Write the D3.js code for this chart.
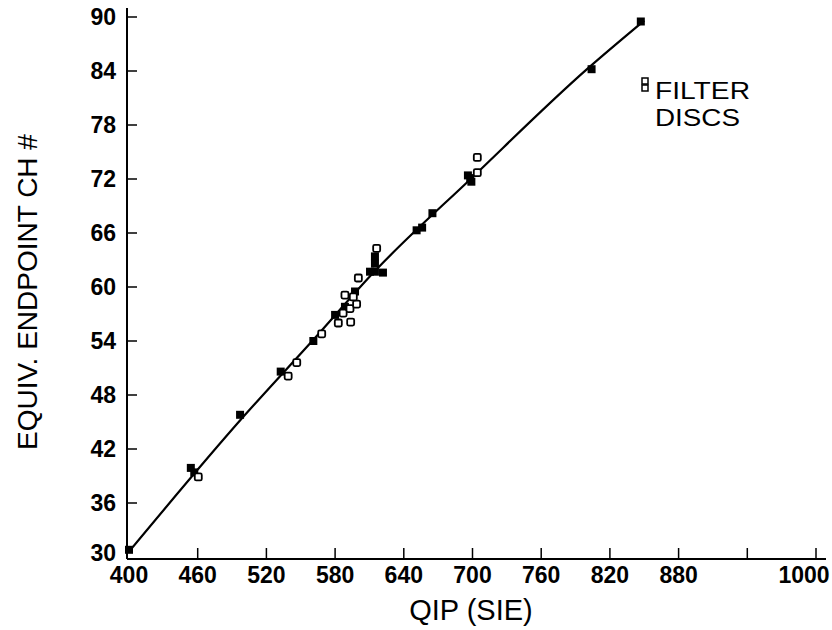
<html>
<script src="https://cdn.jsdelivr.net/npm/d3@7"></script>
<body style="margin:0;background:#fff">
<svg width=832 height=630></svg>
</body>
<script>

// ticks
var xTicks = [400,460,520,580,640,700,760,820,880,940,1000];
var xLabels = ["400","460","520","580","640","700","760","820","880","","1000"];
var yTicks = [30,36,42,48,54,60,66,72,78,84,90];

// filled squares (qip, ch#)
var filledX = [400,454,457,497,532.5,561,580,588.6,597.4,610.5,614.8,621.8,614.8,614.8,651.2,656,665,696,698,699,804,847];
var filledY = [30.8,39.9,39.4,45.8,50.6,54.0,56.9,57.8,59.5,61.7,61.7,61.6,62.6,63.4,66.3,66.6,68.2,72.4,72.1,71.7,84.2,89.5];

// open squares = filter discs
var openX = [460.5,539,546.5,568.3,582.8,593.6,587,593,598.8,588.6,595.9,600.3,616.3,704.2,704.2];
var openY = [38.9,50.1,51.6,54.8,56.0,56.1,57.1,57.6,58.1,59.1,58.9,61.0,64.3,74.4,72.7];

// fitted curve
var fitX = [400,500,560,615,700,800,850];
var fitY = [30.6,45.6,54.0,61.8,72.2,84.2,89.6];

var svg = d3.select("svg");
var x = d3.scaleLinear().domain([400,1000]).range([129,816]);
var y = d3.scaleLinear().domain([30,90]).range([557,17]);

svg.append("line").attr("x1",127).attr("x2",127).attr("y1",8).attr("y2",559)
  .attr("stroke","#000").attr("stroke-width",2);
svg.append("line").attr("x1",127).attr("x2",826).attr("y1",559).attr("y2",559)
  .attr("stroke","#000").attr("stroke-width",2);

// y ticks
var yg = svg.append("g");
yTicks.forEach(function(t) {
  if(t > 30) yg.append("line").attr("x1",127).attr("x2",137).attr("y1",y(t)).attr("y2",y(t))
    .attr("stroke","#000").attr("stroke-width",1.5);
  yg.append("text").attr("x",116).attr("y",y(t)+(t==30?-4:0)).attr("dy","0.36em")
    .attr("text-anchor","end").attr("font-family","Liberation Sans").attr("font-weight","bold")
    .attr("font-size",23).text(t);
});

// x ticks
var xg = svg.append("g");
xTicks.forEach(function(t,i) {
  if(t > 400) xg.append("line").attr("x1",x(t)).attr("x2",x(t)).attr("y1",559).attr("y2",548)
    .attr("stroke","#000").attr("stroke-width",1.5);
  xg.append("text").attr("x",t==1000 ? x(t)-12 : x(t)).attr("y",583)
    .attr("text-anchor","middle").attr("font-family","Liberation Sans").attr("font-weight","bold")
    .attr("font-size",23).text(xLabels[i]);
});

svg.append("text").attr("x",471).attr("y",620).attr("text-anchor","middle")
  .attr("font-family","Liberation Sans").attr("font-size",29).text("QIP (SIE)");
svg.append("text").attr("transform","translate(37,292) rotate(-90)").attr("text-anchor","middle")
  .attr("font-family","Liberation Sans").attr("font-size",28).text("EQUIV. ENDPOINT CH #");

// curve
var line = d3.line().x(function(d){return x(d[0]);}).y(function(d){return y(d[1]);})
  .curve(d3.curveMonotoneX);
svg.append("path").datum(d3.zip(fitX,fitY)).attr("d",line)
  .attr("fill","none").attr("stroke","#000").attr("stroke-width",2.2);

// points
var s = 8;
svg.selectAll(".f").data(d3.zip(filledX,filledY)).enter().append("rect")
  .attr("x",function(d){return x(d[0])-s/2;}).attr("y",function(d){return y(d[1])-s/2;})
  .attr("width",s).attr("height",s).attr("fill","#000");
var o = 7;
svg.selectAll(".o").data(d3.zip(openX,openY)).enter().append("rect")
  .attr("x",function(d){return x(d[0])-o/2;}).attr("y",function(d){return y(d[1])-o/2;})
  .attr("width",o).attr("height",o).attr("rx",1.5).attr("fill","#fff")
  .attr("stroke","#000").attr("stroke-width",1.8);

// legend
svg.append("rect").attr("x",642).attr("y",78).attr("width",6).attr("height",6)
  .attr("fill","#fff").attr("stroke","#000").attr("stroke-width",1.5);
svg.append("rect").attr("x",642).attr("y",85).attr("width",6).attr("height",6)
  .attr("fill","#fff").attr("stroke","#000").attr("stroke-width",1.5);
svg.append("text").attr("x",655).attr("y",99).attr("font-family","Liberation Sans")
  .attr("font-size",24).attr("textLength",95).attr("lengthAdjust","spacingAndGlyphs").text("FILTER");
svg.append("text").attr("x",655).attr("y",126).attr("font-family","Liberation Sans")
  .attr("font-size",24).attr("textLength",85).attr("lengthAdjust","spacingAndGlyphs").text("DISCS");

</script>
</html>
